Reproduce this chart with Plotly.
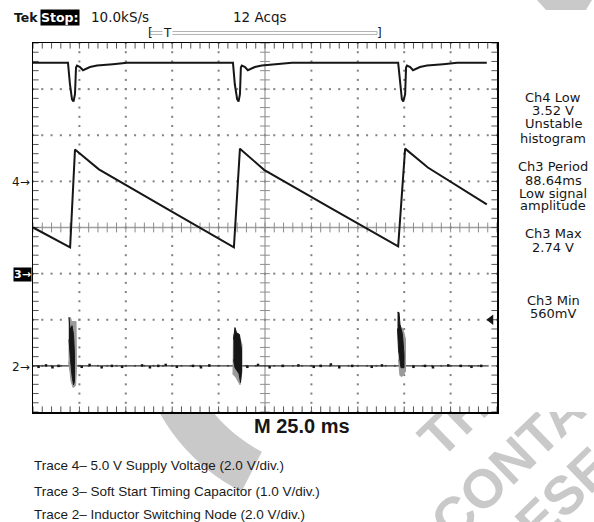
import math
import plotly.graph_objects as go

# ---------------- data (screen divisions: x 0..10 at 25 ms/div, y -4..+4 div) ----------------
# Trace 4 : 5.0 V supply (2.0 V/div, ground marker at +1 div)
ch4_x = [0.0, 0.754, 0.797, 0.841, 0.873, 0.905, 0.927, 0.948, 1.013, 1.078, 1.228, 1.379, 1.724, 2.026,
         4.31, 4.35, 4.40, 4.43, 4.46, 4.48, 4.50, 4.57, 4.63, 4.78, 4.93, 5.28, 5.58,
         7.87, 7.91, 7.95, 7.98, 8.02, 8.04, 8.06, 8.13, 8.19, 8.34, 8.49, 8.84, 9.14, 9.78]
ch4_y = [3.57, 3.57, 3.10, 2.78, 2.73, 2.89, 3.47, 3.51, 3.48, 3.41, 3.48, 3.51, 3.54, 3.57,
         3.57, 3.10, 2.78, 2.73, 2.89, 3.47, 3.51, 3.48, 3.41, 3.48, 3.51, 3.54, 3.57,
         3.57, 3.10, 2.78, 2.73, 2.89, 3.47, 3.51, 3.48, 3.41, 3.48, 3.51, 3.54, 3.57, 3.57]

# Trace 3 : soft start timing capacitor (1.0 V/div, ground marker at -1 div)
ch3_x = [0.0, 0.80, 0.905, 1.42, 2.90, 4.33, 4.46, 4.98, 6.40, 7.87, 8.02, 8.51, 9.78]
ch3_y = [0.0, -0.43, 1.69, 1.26, 0.40, -0.43, 1.71, 1.25, 0.43, -0.41, 1.71, 1.30, 0.50]

# Trace 2 : inductor switching node (2.0 V/div, ground marker at -3 div)
ch2_x = [0.0, 9.78]
ch2_y = [-3.0, -3.0]
ch2_noise_x = [0.12, 0.28, 0.42, 0.55, 1.05, 1.22, 1.48, 1.70, 1.92, 2.35, 2.52, 2.70, 2.86, 3.10,
               3.45, 3.62, 3.80, 4.62, 4.85, 5.10, 5.38, 5.72, 6.05, 6.20, 6.42, 6.60, 6.88,
               7.30, 7.52, 8.20, 8.45, 8.62, 8.95, 9.22, 9.45, 9.66]
ch2_noise_y = [-3.02, -2.99, -3.03, -3.0, -3.02, -2.98, -3.03, -3.0, -3.02, -2.99, -3.03, -3.0,
               -2.98, -3.02, -3.0, -3.03, -2.99, -3.02, -2.98, -3.03, -3.0, -2.99, -3.02, -3.0,
               -2.97, -3.03, -3.0, -3.02, -2.99, -3.02, -3.0, -3.03, -2.99, -3.0, -3.02, -3.0]
# switching bursts: light (envelope) and dark (dense) regions
burst1_grey_x = [0.765, 0.808, 0.830, 0.927, 0.937, 0.916, 0.862, 0.819, 0.797, 0.765]
burst1_grey_y = [-1.95, -1.95, -2.04, -2.04, -3.08, -3.43, -3.47, -3.32, -3.12, -2.91]
burst1_dark_x = [0.776, 0.797, 0.841, 0.873, 0.894, 0.894, 0.873, 0.841, 0.808, 0.776]
burst1_dark_y = [-1.95, -2.21, -2.13, -2.32, -2.75, -3.34, -3.41, -3.21, -2.86, -2.43]
burst2_grey_x = [4.310, 4.375, 4.440, 4.504, 4.504, 4.461, 4.375, 4.300]
burst2_grey_y = [-2.34, -2.28, -2.34, -2.54, -3.12, -3.41, -3.25, -3.17]
burst2_dark_x = [4.321, 4.353, 4.386, 4.450, 4.494, 4.494, 4.472, 4.440, 4.353, 4.321]
burst2_dark_y = [-2.43, -2.17, -2.28, -2.32, -2.65, -3.12, -3.36, -3.17, -3.04, -2.86]
burst3_grey_x = [7.888, 7.931, 7.974, 8.028, 8.028, 7.953, 7.909, 7.877]
burst3_grey_y = [-2.21, -2.17, -2.19, -2.43, -3.12, -3.23, -3.21, -2.86]
burst3_dark_x = [7.856, 7.888, 7.909, 7.963, 7.996, 7.996, 7.931, 7.877, 7.856]
burst3_dark_y = [-1.84, -1.84, -2.10, -2.32, -2.75, -3.04, -3.04, -2.65, -2.19]

trigger_level = [9.87, -2.0]

header_texts = ["Tek", "Stop:", "10.0kS/s", "12 Acqs"]
marker_labels = [("4\u2192", 1.0), ("3\u2192", -1.0), ("2\u2192", -3.0)]
readouts = ["Ch4 Low", "3.52 V", "Unstable", "histogram",
            "Ch3 Period", "88.64ms", "Low signal", "amplitude",
            "Ch3 Max", "2.74 V", "Ch3 Min", "560mV"]
readout_rows = [97, 110, 124, 138, 166, 180, 193, 206, 233, 247, 300, 313]
timebase = "M 25.0 ms"
captions = ["Trace 4\u2013 5.0 V Supply Voltage (2.0 V/div.)",
            "Trace 3\u2013 Soft Start Timing Capacitor (1.0 V/div.)",
            "Trace 2\u2013 Inductor Switching Node (2.0 V/div.)"]
watermark_words = ["TH", "CONTA", "ESE"]

# ---------------- layout geometry (page pixels) ----------------
W, H = 594, 522
L, R, T, B = 33, 497, 43, 412  # graticule box on the page


def ppx(x):
    return (x - L) / (R - L)


def ppy(y):
    return (B - y) / (B - T)


SCOPE = "DejaVu Sans"
DOC = "Liberation Sans"
INK = "#161616"

fig = go.Figure()

# graticule dots
gx, gy = [], []
for j in [-3, -2, -1, 1, 2, 3]:
    for i in range(51):
        gx.append(i * 0.2)
        gy.append(j)
for k in [1, 2, 3, 4, 6, 7, 8, 9]:
    for i in range(41):
        gx.append(k)
        gy.append(-4 + i * 0.2)
fig.add_trace(go.Scatter(x=gx, y=gy, mode="markers", hoverinfo="skip",
                         marker=dict(symbol="square", size=2, color="#808080", line=dict(width=0))))

tx = [i * 0.2 for i in range(51)]
ty = [-4 + i * 0.2 for i in range(41)]
tick_style = dict(size=7, line=dict(width=1, color="#8c8c8c"))
fig.add_trace(go.Scatter(x=tx, y=[0] * len(tx), mode="markers", hoverinfo="skip",
                         marker=dict(symbol="line-ns", **tick_style)))
fig.add_trace(go.Scatter(x=[5] * len(ty), y=ty, mode="markers", hoverinfo="skip",
                         marker=dict(symbol="line-ew", **tick_style)))
edge_style = dict(size=8, line=dict(width=1, color="#555555"))
fig.add_trace(go.Scatter(x=tx + tx, y=[4] * len(tx) + [-4] * len(tx), mode="markers", hoverinfo="skip",
                         marker=dict(symbol="line-ns", **edge_style)))
fig.add_trace(go.Scatter(x=[0] * len(ty) + [10] * len(ty), y=ty + ty, mode="markers", hoverinfo="skip",
                         marker=dict(symbol="line-ew", **edge_style)))

# Trace 2
fig.add_trace(go.Scatter(x=ch2_x, y=ch2_y, mode="lines", line=dict(color="#333333", width=1.2),
                         hoverinfo="skip"))
fig.add_trace(go.Scatter(x=ch2_noise_x, y=ch2_noise_y, mode="markers", hoverinfo="skip",
                         marker=dict(symbol="square", size=2.5, color=INK, line=dict(width=0))))
for bx, by, col in [(burst1_grey_x, burst1_grey_y, "#9a9a9a"), (burst1_dark_x, burst1_dark_y, INK),
                    (burst2_grey_x, burst2_grey_y, "#9a9a9a"), (burst2_dark_x, burst2_dark_y, INK),
                    (burst3_grey_x, burst3_grey_y, "#9a9a9a"), (burst3_dark_x, burst3_dark_y, INK)]:
    fig.add_trace(go.Scatter(x=bx, y=by, mode="lines", fill="toself", fillcolor=col,
                             line=dict(color=col, width=1), hoverinfo="skip"))

# Trace 3 and Trace 4
fig.add_trace(go.Scatter(x=ch3_x, y=ch3_y, mode="lines", line=dict(color=INK, width=2), hoverinfo="skip"))
fig.add_trace(go.Scatter(x=ch4_x, y=ch4_y, mode="lines", line=dict(color=INK, width=2), hoverinfo="skip"))

# trigger level arrow
fig.add_trace(go.Scatter(x=[trigger_level[0]], y=[trigger_level[1]], mode="markers", hoverinfo="skip",
                         marker=dict(symbol="triangle-left", size=9, color=INK)))

shapes = []
# centre cross lines of the graticule
shapes.append(dict(type="line", xref="x", yref="y", x0=5, x1=5, y0=-4, y1=4,
                   line=dict(color="#a0a0a0", width=1.3), layer="below"))
shapes.append(dict(type="line", xref="x", yref="y", x0=0, x1=10, y0=0, y1=0,
                   line=dict(color="#a0a0a0", width=1.3), layer="below"))

# faint watermark behind the screenshot
WM = "#c9c9c9"
for word, cx, cy in zip(watermark_words, [450, 504, 560], [418, 461, 491]):
    shapes.append(dict(type="rect", xref="paper", yref="paper",
                       x0=ppx(cx - 1), x1=ppx(cx + 1), y0=ppy(cy + 1), y1=ppy(cy - 1),
                       line=dict(width=0), fillcolor="rgba(0,0,0,0)", layer="below",
                       label=dict(text=word, textangle=-44, textposition="middle center", padding=0,
                                  font=dict(family=DOC, size=54, color=WM, weight="bold"))))
# large arc of the watermark logo
ccx, ccy, r_out, r_in = 330, 318, 195, 150
pts_out = [(ccx + r_out * math.cos(math.radians(a)), ccy + r_out * math.sin(math.radians(a)))
           for a in range(162, 116, -3)]
pts_in = [(ccx + r_in * math.cos(math.radians(a)), ccy + r_in * math.sin(math.radians(a)))
          for a in range(117, 163, 3)]
pts = pts_out + pts_in
path = "M " + " L ".join(f"{ppx(px):.4f},{ppy(py):.4f}" for px, py in pts) + " Z"
shapes.append(dict(type="path", xref="paper", yref="paper", path=path, fillcolor=WM,
                   line=dict(width=0), layer="below"))
corner = [(537, 0), (592, 0), (586, 10), (546, 10)]
path = "M " + " L ".join(f"{ppx(px):.4f},{ppy(py):.4f}" for px, py in corner) + " Z"
shapes.append(dict(type="path", xref="paper", yref="paper", path=path, fillcolor=WM,
                   line=dict(width=0), layer="below"))
# the opaque screenshot area hides the watermark above the graticule bottom
shapes.append(dict(type="rect", xref="paper", yref="paper",
                   x0=ppx(-10), x1=ppx(W + 10), y0=ppy(B), y1=ppy(10),
                   line=dict(width=0), fillcolor="white", layer="below"))
# trigger position bar
shapes.append(dict(type="rect", xref="paper", yref="paper",
                   x0=ppx(150), x1=ppx(377), y0=ppy(34.5), y1=ppy(31.5),
                   line=dict(color="#b4b4b4", width=1), fillcolor="white"))

ann = []


def add(text, x, y, size, family=SCOPE, anchor="left", color=INK, weight="normal", **kw):
    ann.append(dict(text=text, xref="paper", yref="paper", x=ppx(x), y=ppy(y), showarrow=False,
                    xanchor=anchor, yanchor="middle",
                    font=dict(family=family, size=size, color=color, weight=weight), **kw))


add(header_texts[0], 12, 17, 12.5, weight="bold")
add(header_texts[1], 40, 17, 12.5, weight="bold", color="white", bgcolor="black", borderpad=0)
add(header_texts[2], 89, 17, 13.5)
add(header_texts[3], 231, 17, 13.5)
add("[", 146, 33, 12)
add("T", 167, 33, 12, anchor="center", bgcolor="white", borderpad=0)
add("]", 375, 33, 12)

for (lab, yv), py in zip(marker_labels, [182, 274, 367]):
    if lab.startswith("3"):
        add(lab, 32, py, 11, anchor="right", color="white", bgcolor="black", borderpad=0, weight="bold")
    else:
        add(lab, 32, py, 12, anchor="right")

for txt, py in zip(readouts, readout_rows):
    add(txt, 553, py, 13, anchor="center", borderpad=0)

add(timebase, 302, 426, 20, family=DOC, anchor="center", weight="bold")
for txt, py in zip(captions, [466, 491, 514]):
    add(txt, 33, py, 13.5, family=DOC, color="#1a1a1a", borderpad=0)

axis = dict(showgrid=False, zeroline=False, showticklabels=False, ticks="", showline=True,
            mirror=True, linecolor="black", linewidth=1.5, fixedrange=True)
fig.update_layout(
    width=W, height=H, showlegend=False,
    margin=dict(l=L, r=W - R, t=T, b=H - B, pad=0),
    paper_bgcolor="white", plot_bgcolor="white",
    xaxis=dict(range=[0, 10], **axis),
    yaxis=dict(range=[-4, 4], **axis),
    shapes=shapes, annotations=ann,
)
fig.write_html("out.html", config={"displayModeBar": False, "staticPlot": True},
               post_script="document.body.style.margin='0';document.body.style.overflow='hidden';")
